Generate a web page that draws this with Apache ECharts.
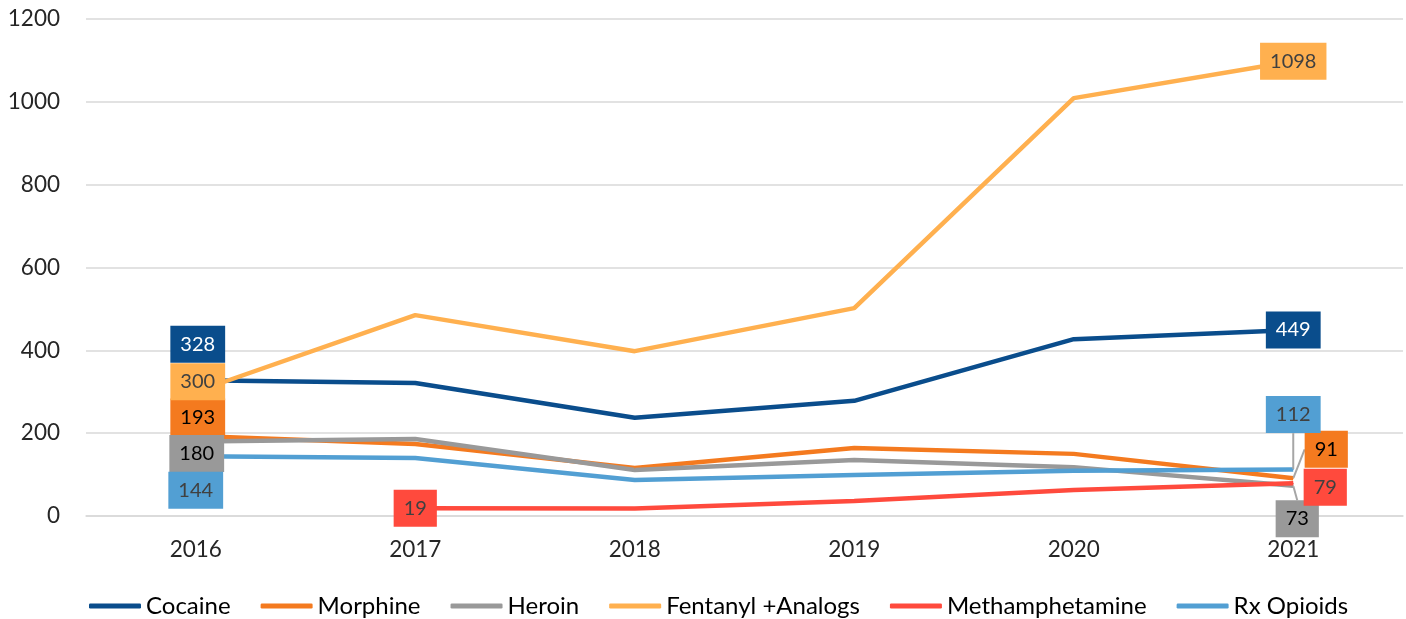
<!DOCTYPE html>
<html>
<head>
<meta charset="utf-8">
<script src="https://cdn.jsdelivr.net/npm/echarts@6/dist/echarts.min.js"></script>
<style>
html,body{margin:0;padding:0;background:#fff;}
#chart{width:1406px;height:619px;}
</style>
</head>
<body>
<div id="chart"></div>
<script>
const years = ['2016', '2017', '2018', '2019', '2020', '2021'];
const cocaine = [328, 321, 237, 278, 427, 449];
const morphine = [193, 174, 116, 164, 150, 91];
const heroin = [180, 186, 111, 135, 118, 73];
const fentanyl = [300, 485, 398, 502, 1009, 1098];
const meth = [null, 19, 18, 36, 63, 79];
const rxOpioids = [144, 140, 87, 99, 109, 112];
const yTicks = [0, 200, 400, 600, 800, 1000, 1200];

const seriesDefs = [
  {name: 'Cocaine', data: cocaine, color: '#0A4D8C', text: '#ffffff'},
  {name: 'Morphine', data: morphine, color: '#F47A1F', text: '#000000'},
  {name: 'Heroin', data: heroin, color: '#999999', text: '#000000'},
  {name: 'Fentanyl +Analogs', data: fentanyl, color: '#FFB04F', text: '#404040'},
  {name: 'Methamphetamine', data: meth, color: '#FF4A3D', text: '#404040'},
  {name: 'Rx Opioids', data: rxOpioids, color: '#529FD3', text: '#404040'}
];

// label displacement [dx, dy] for first/last labels (layout only)
const labelShift = {
  '0-0': [2, -36], '0-5': [0, 0],
  '1-0': [2, -19], '1-5': [33, -29],
  '2-0': [1, 12], '2-5': [4, 33],
  '3-0': [2, -10], '3-5': [0, 0],
  '4-1': [0, 0], '4-5': [32, 4],
  '5-0': [0, 34], '5-5': [0, -55]
};
const guided = {'1-5': 1, '2-5': 1, '5-5': 1};

const series = seriesDefs.map((s, si) => {
  let first = s.data.findIndex(v => v !== null);
  let last = s.data.length - 1;
  return {
    name: s.name,
    type: 'line',
    color: s.color,
    symbol: 'circle',
    symbolSize: 1,
    showSymbol: true,
    lineStyle: {width: 4.5, color: s.color},
    itemStyle: {color: s.color},
    z: 2,
    labelLine: {show: false, lineStyle: {color: '#A6A6A6', width: 2}, smooth: false},
    data: s.data.map((v, i) => {
      const showLbl = (i === first || i === last) && v !== null;
      const key = si + '-' + i;
      return {
        value: v,
        label: {
          show: showLbl,
          position: 'inside',
          fontFamily: 'Lato',
          fontSize: 20,
          lineHeight: 21,
          color: s.text,
          backgroundColor: s.color,
          padding: [8, 10, 8, 10]
        },
        labelLine: {show: !!guided[key]}
      };
    }),
    labelLayout: function (p) {
      const sh = labelShift[si + '-' + p.dataIndex] || [0, 0];
      return {dx: sh[0], dy: sh[1], hideOverlap: false};
    }
  };
});

const chart = echarts.init(document.getElementById('chart'));
chart.setOption({
  animation: false,
  textStyle: {fontFamily: 'Lato'},
  grid: {left: 86, right: 3, top: 19, bottom: 103},
  legend: {
    bottom: -4,
    left: 84,
    itemWidth: 52,
    itemHeight: 5,
    itemGap: 30,
    icon: 'roundRect',
    textStyle: {fontFamily: 'Lato', fontSize: 24, color: '#000000'},
    data: seriesDefs.map(s => s.name)
  },
  xAxis: {
    type: 'category',
    data: years,
    boundaryGap: true,
    axisLine: {show: true, lineStyle: {color: '#D9D9D9', width: 1.5}},
    axisTick: {show: false},
    axisLabel: {fontFamily: 'Lato', fontSize: 22.5, color: '#262626', margin: 22}
  },
  yAxis: {
    type: 'value',
    min: yTicks[0],
    max: yTicks[yTicks.length - 1],
    interval: 200,
    axisLine: {show: false},
    axisTick: {show: false},
    splitLine: {lineStyle: {color: '#D9D9D9', width: 1.5}},
    axisLabel: {fontFamily: 'Lato', fontSize: 22.5, color: '#262626', margin: 26, formatter: v => String(v)}
  },
  series: series
});
</script>
</body>
</html>
